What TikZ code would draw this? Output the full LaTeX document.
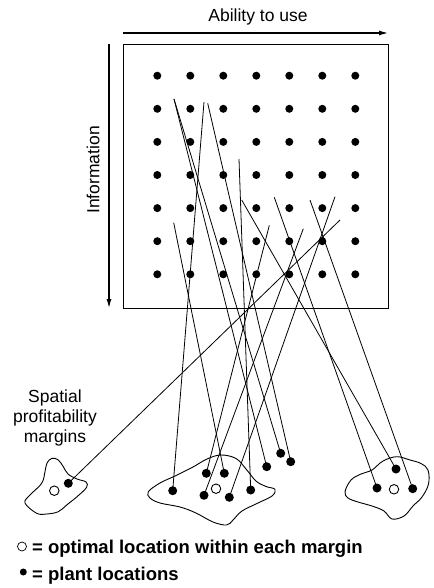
\documentclass[tikz,border=0pt]{standalone}
\usepackage{fontspec}
\setmainfont{Liberation Sans}
\usetikzlibrary{arrows.meta}
\begin{document}
\begin{tikzpicture}[x=1pt,y=-1pt,
  griddot/.style={circle,fill=black,inner sep=0pt,minimum size=8pt},
  plant/.style={circle,fill=black,inner sep=0pt,minimum size=9pt},
  optimal/.style={circle,draw=black,line width=0.9pt,fill=white,inner sep=0pt,minimum size=9.5pt},
  link/.style={line width=0.8pt},
  margin/.style={line width=0.9pt},
  axis/.style={line width=1.1pt,-{Latex[length=9pt,width=5pt]}},
  lbl/.style={font=\fontsize{17.5}{20}\selectfont,inner sep=0pt},
  legend/.style={font=\bfseries\fontsize{18.5}{22}\selectfont,inner sep=0pt,anchor=base west}]
\useasboundingbox (0,0) rectangle (433,588);

% matrix box
\node[draw,line width=1.2pt,minimum width=265pt,minimum height=264pt,inner sep=0pt,anchor=north west] (box) at (123,44) {};

% axes
\coordinate (ax1) at (123,33);
\coordinate (ax2) at (388,33);
\coordinate (ay1) at (109,44);
\coordinate (ay2) at (109,308);
\draw[axis] (ax1) -- (ax2);
\draw[axis] (ay1) -- (ay2);
\node[lbl] (ability) at (258,17) {Ability to use};
\node[lbl,rotate=90] (info) at (93,170) {Information};
\node[lbl,align=center] (spm) at (55,418) {Spatial\\profitability\\margins};

% grid of dots
\foreach \i in {0,...,6}
  \foreach \j in {0,...,6}
    \node[griddot] (g\i\j) at ({157.3+33*\i},{75.7+33.1*\j}) {};

% margins (blobs)
\draw[margin] plot[smooth cycle,tension=0.6] coordinates {
  (25,503) (30,495) (41.7,483.3) (45,471.7) (47,463) (52,458.3) (58.3,460) (63.3,466.7)
  (68,474) (77,479) (86,482) (86.5,487.5) (77,496.7) (66.7,505) (58.3,511.7) (46.7,514) (36.7,513.3)};
\draw[margin] plot[smooth cycle,tension=0.6] coordinates {
  (148.3,491.7) (160,483) (175,476) (193,467) (207,459) (221,455) (236,458.5) (246,469)
  (256,481) (266,486.5) (275,489.3) (272,496) (258,503) (242,511) (233,520) (226.7,525)
  (213,522) (196,513) (180,507) (160,503) (150,498)};
\draw[margin] plot[smooth cycle,tension=0.6] coordinates {
  (345,491.7) (351,480) (361,474) (372,470) (383,461) (396.7,456.7) (410,460) (421,463.5)
  (428,470) (428.5,484) (422,497) (413,506) (404,516) (392,519) (384,511) (372,506) (358,502) (348,498)};

% optimal locations
\node[optimal] (oL) at (54.3,490.7) {};
\node[optimal] (oM) at (216,488.7) {};
\node[optimal] (oR) at (394,489.3) {};

% plant locations
\node[plant] (pL) at (68.3,483.3) {};
\node[plant] (p1) at (172.7,490.7) {};
\node[plant] (p2) at (206.3,473.3) {};
\node[plant] (p3) at (224.3,473.3) {};
\node[plant] (p4) at (204,495.3) {};
\node[plant] (p5) at (229.3,497.3) {};
\node[plant] (p6) at (250.7,490) {};
\node[plant] (p7) at (266.7,466.7) {};
\node[plant] (p8) at (280.7,453.3) {};
\node[plant] (p9) at (290.7,461.7) {};
\node[plant] (r1) at (396,469) {};
\node[plant] (r2) at (377,488) {};
\node[plant] (r3) at (412.7,488.7) {};

% line origins in the matrix
\coordinate (t1) at (174,99);
\coordinate (t2) at (204,102);
\coordinate (t3) at (207.7,103.3);
\coordinate (t4) at (239,159);
\coordinate (t5) at (241.7,200);
\coordinate (t6) at (269.3,225.3);
\coordinate (t7) at (274.3,197.3);
\coordinate (t8) at (303.3,228.7);
\coordinate (t9) at (310,200);
\coordinate (t10) at (335,196.7);
\coordinate (t11) at (340,220);
\coordinate (t12) at (173.7,222.7);

\draw[link] (t1) -- (p7.center);
\draw[link] (t1) -- (p8.center);
\draw[link] (t2) -- (p1.center);
\draw[link] (t3) -- (p9.center);
\draw[link] (t4) -- (p6.center);
\draw[link] (t5) -- (r1.center);
\draw[link] (t6) -- (p2.center);
\draw[link] (t7) -- (r2.center);
\draw[link] (t8) -- (p4.center);
\draw[link] (t9) -- (r3.center);
\draw[link] (t10) -- (p5.center);
\draw[link] (t11) -- (pL.center);
\draw[link] (t12) -- (p3.center);

% legend
\node[optimal,minimum size=9pt,line width=0.7pt] (legO) at (22,546.5) {};
\node[legend] (legOt) at (32,553) {= optimal location within each margin};
\node[plant,minimum size=7pt] (legP) at (23.3,572) {};
\node[legend] (legPt) at (32,580.5) {= plant locations};
\end{tikzpicture}
\end{document}
